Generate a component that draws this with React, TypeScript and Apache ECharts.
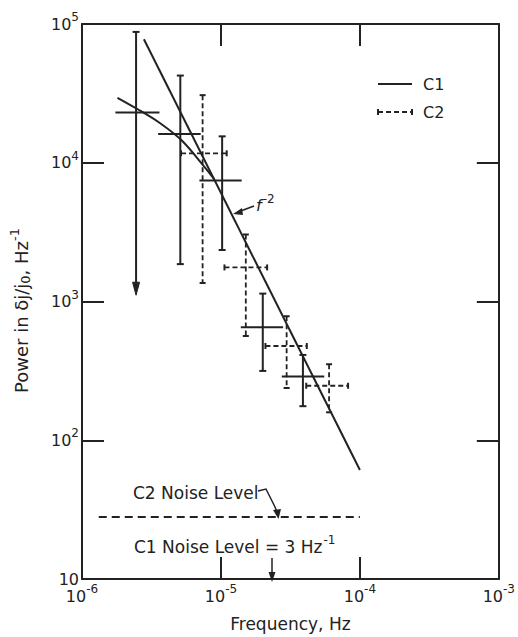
import React, { useEffect, useRef } from 'react';
import * as echarts from 'echarts';

const INK = '#222222';
const FONT = '"DejaVu Sans", "Liberation Sans", sans-serif';

// Axis ticks and their labels (exponents shown as superscripts)
const xTickValues = [1e-6, 1e-5, 1e-4, 1e-3];
const xTickExponents = ['-6', '-5', '-4', '-3'];
const yTickValues = [10, 100, 1000, 1e4, 1e5];
const yTickExponents = ['', '2', '3', '4', '5'];

// C1 (solid error bars)
const c1Freq = [2.45e-6, 5.1e-6, 1.02e-5, 2.0e-5, 3.89e-5];
const c1Power = [2.3e4, 1.61e4, 7.45e3, 653, 288];
const c1FreqLow = [1.74e-6, 3.53e-6, 7.0e-6, 1.39e-5, 2.74e-5];
const c1FreqHigh = [3.61e-6, 7.15e-6, 1.41e-5, 2.8e-5, 5.54e-5];
const c1PowerLow = [1.11e3, 1.86e3, 2.35e3, 316, 176];
const c1PowerHigh = [8.77e4, 4.25e4, 1.55e4, 1.14e3, 412];
const c1UpperLimit = [1, 0, 0, 0, 0];

// C2 (dashed error bars)
const c2Freq = [7.38e-6, 1.51e-5, 2.97e-5, 6.0e-5];
const c2Power = [1.17e4, 1.76e3, 478, 247];
const c2FreqLow = [5.16e-6, 1.06e-5, 2.09e-5, 4.11e-5];
const c2FreqHigh = [1.1e-5, 2.15e-5, 4.15e-5, 8.22e-5];
const c2PowerLow = [1.36e3, 564, 238, 159];
const c2PowerHigh = [3.07e4, 3.04e3, 783, 353];

// f^-2 line
const slopeFreq = [2.79e-6, 1e-4];
const slopePower = [7.76e4, 61];

// rolled-off fit curve
const fitFreq = [1.8e-6, 2.52e-6, 3.59e-6, 5.25e-6, 7.66e-6, 8.97e-6];
const fitPower = [2.94e4, 2.43e4, 1.95e4, 1.44e4, 9.27e3, 7.58e3];

// C2 noise level
const noiseFreq = [1.32e-6, 1e-4];
const noisePower = [28, 28];

function makeErrRender(dashed: boolean) {
  return (params: any, api: any) => {
    const x = api.value(0);
    const y = api.value(1);
    const xlo = api.value(2);
    const xhi = api.value(3);
    const ylo = api.value(4);
    const yhi = api.value(5);
    const limit = api.value(6);
    const c = api.coord([x, y]);
    const pL = api.coord([xlo, y]);
    const pR = api.coord([xhi, y]);
    const pB = api.coord([x, ylo]);
    const pT = api.coord([x, yhi]);
    const style: any = { stroke: INK, lineWidth: dashed ? 1.8 : 2, fill: null };
    if (dashed) style.lineDash = [5, 3];
    const solid = { stroke: INK, lineWidth: 2, fill: null };
    const capW = dashed ? 3 : 3.5;
    const children: any[] = [];
    children.push({ type: 'line', shape: { x1: pL[0], y1: c[1], x2: pR[0], y2: c[1] }, style });
    children.push({ type: 'line', shape: { x1: c[0], y1: pT[1], x2: c[0], y2: limit ? pB[1] - 6 : pB[1] }, style });
    children.push({ type: 'line', shape: { x1: c[0] - capW, y1: pT[1], x2: c[0] + capW, y2: pT[1] }, style: solid });
    if (limit) {
      children.push({
        type: 'polygon',
        shape: { points: [[c[0] - 3.5, pB[1] - 13], [c[0] + 3.5, pB[1] - 13], [c[0], pB[1]]] },
        style: { fill: INK, stroke: INK, lineWidth: 1 },
      });
    } else {
      children.push({ type: 'line', shape: { x1: c[0] - capW, y1: pB[1], x2: c[0] + capW, y2: pB[1] }, style: solid });
    }
    if (dashed) {
      children.push({ type: 'line', shape: { x1: pL[0], y1: c[1] - 3, x2: pL[0], y2: c[1] + 3 }, style: solid });
      children.push({ type: 'line', shape: { x1: pR[0], y1: c[1] - 3, x2: pR[0], y2: c[1] + 3 }, style: solid });
    }
    return { type: 'group', children };
  };
}

function xLabel(v: number) {
  const i = xTickValues.findIndex((t) => Math.abs(Math.log10(t) - Math.log10(v)) < 1e-6);
  if (i < 0) return '';
  return '{b|10}{s|' + xTickExponents[i] + '}';
}
function yLabel(v: number) {
  const i = yTickValues.findIndex((t) => Math.abs(Math.log10(t) - Math.log10(v)) < 1e-6);
  if (i < 0) return '';
  return yTickExponents[i] ? '{b|10}{s|' + yTickExponents[i] + '}' : '{b|10}';
}

export default function App() {
  const ref = useRef<HTMLDivElement>(null);
  useEffect(() => {
    if (!ref.current) return;
    const chart = echarts.init(ref.current, null, { renderer: 'svg' });
    const c1Data = c1Freq.map((f, i) => [f, c1Power[i], c1FreqLow[i], c1FreqHigh[i], c1PowerLow[i], c1PowerHigh[i], c1UpperLimit[i]]);
    const c2Data = c2Freq.map((f, i) => [f, c2Power[i], c2FreqLow[i], c2FreqHigh[i], c2PowerLow[i], c2PowerHigh[i], 0]);
    const tickStyle = { show: true, inside: true, length: 22, lineStyle: { color: INK, width: 2 } };
    const lineAx = { show: true, onZero: false, lineStyle: { color: INK, width: 2 } };
    const labelRich = {
      b: { fontSize: 16, fontFamily: FONT, color: INK },
      s: { fontSize: 12, fontFamily: FONT, color: INK, padding: [0, 0, 14, 0] },
    };
    const option: any = {
      animation: false,
      backgroundColor: '#ffffff',
      grid: { left: 78, right: 15, top: 24, bottom: 54, containLabel: false },
      xAxis: [
        {
          type: 'log', logBase: 10, min: 1e-6, max: 1e-3, position: 'bottom',
          axisLine: lineAx, axisTick: tickStyle, splitLine: { show: false },
          axisLabel: { formatter: xLabel, margin: 4, rich: labelRich },
          name: 'Frequency, Hz', nameLocation: 'middle', nameGap: 36,
          nameTextStyle: { fontSize: 17, fontFamily: FONT, color: INK, verticalAlign: 'top' },
        },
        {
          type: 'log', logBase: 10, min: 1e-6, max: 1e-3, position: 'top',
          axisLine: lineAx, axisTick: tickStyle, splitLine: { show: false }, axisLabel: { show: false },
        },
      ],
      yAxis: [
        {
          type: 'log', logBase: 10, min: 10, max: 1e5, position: 'left',
          axisLine: lineAx, axisTick: tickStyle, splitLine: { show: false },
          axisLabel: { formatter: yLabel, margin: 3, rich: labelRich },
          name: 'Power in δj/j{sub|0}, Hz{sup|-1}', nameLocation: 'middle', nameGap: 47, nameRotate: 90,
          nameTextStyle: {
            fontSize: 18, fontFamily: FONT, color: INK, padding: [0, 18, 0, 0],
            rich: {
              sub: { fontSize: 13, fontFamily: FONT, color: INK, padding: [8, 0, 0, 0] },
              sup: { fontSize: 13, fontFamily: FONT, color: INK, padding: [0, 0, 14, 0] },
            },
          },
        },
        {
          type: 'log', logBase: 10, min: 10, max: 1e5, position: 'right',
          axisLine: lineAx, axisTick: tickStyle, splitLine: { show: false }, axisLabel: { show: false },
        },
      ],
      series: [
        {
          name: 'f-2', type: 'line', showSymbol: false, symbol: 'none', silent: true,
          data: slopeFreq.map((f, i) => [f, slopePower[i]]),
          lineStyle: { color: INK, width: 2 },
        },
        {
          name: 'fit', type: 'line', showSymbol: false, symbol: 'none', silent: true, smooth: 0.3,
          data: fitFreq.map((f, i) => [f, fitPower[i]]),
          lineStyle: { color: INK, width: 2 },
        },
        {
          name: 'C2 noise', type: 'line', showSymbol: false, symbol: 'none', silent: true,
          data: noiseFreq.map((f, i) => [f, noisePower[i]]),
          lineStyle: { color: INK, width: 2, type: [8, 5] },
        },
        {
          name: 'C1', type: 'custom', renderItem: makeErrRender(false), data: c1Data,
          encode: { x: 0, y: 1 }, clip: false, silent: true,
        },
        {
          name: 'C2', type: 'custom', renderItem: makeErrRender(true), data: c2Data,
          encode: { x: 0, y: 1 }, clip: false, silent: true,
        },
      ],
      graphic: [
        // legend
        { type: 'line', shape: { x1: 378, y1: 84, x2: 412, y2: 84 }, style: { stroke: INK, lineWidth: 2 } },
        { type: 'text', x: 423, y: 84, style: { text: 'C1', fontSize: 16, fontFamily: FONT, fill: INK, verticalAlign: 'middle' } },
        { type: 'line', shape: { x1: 378, y1: 112, x2: 412, y2: 112 }, style: { stroke: INK, lineWidth: 1.8, lineDash: [5, 3] } },
        { type: 'line', shape: { x1: 378, y1: 109, x2: 378, y2: 115 }, style: { stroke: INK, lineWidth: 2 } },
        { type: 'line', shape: { x1: 412, y1: 109, x2: 412, y2: 115 }, style: { stroke: INK, lineWidth: 2 } },
        { type: 'text', x: 423, y: 112, style: { text: 'C2', fontSize: 16, fontFamily: FONT, fill: INK, verticalAlign: 'middle' } },
        // f^-2 annotation
        { type: 'polyline', shape: { points: [[238, 212], [246, 209], [254, 206]] }, style: { stroke: INK, lineWidth: 1.5, fill: null } },
        { type: 'polygon', shape: { points: [[233, 214], [242, 208], [243, 215]] }, style: { fill: INK } },
        {
          type: 'text', x: 256, y: 205,
          style: {
            text: '{f|f}{s|-2}', verticalAlign: 'middle',
            rich: {
              f: { fontSize: 16, fontFamily: FONT, fill: INK, fontStyle: 'italic' },
              s: { fontSize: 12, fontFamily: FONT, fill: INK, padding: [0, 0, 12, 1] },
            },
          },
        },
        // C2 noise level label
        { type: 'text', x: 133, y: 493, style: { text: 'C2 Noise Level', fontSize: 17, fontFamily: FONT, fill: INK, verticalAlign: 'middle' } },
        { type: 'polyline', shape: { points: [[258, 491], [266, 489], [275, 507], [277, 512]] }, style: { stroke: INK, lineWidth: 1.5, fill: null } },
        { type: 'polygon', shape: { points: [[273, 510], [281, 509], [278.5, 519]] }, style: { fill: INK } },
        // C1 noise level label
        {
          type: 'text', x: 134, y: 547,
          style: {
            text: 'C1 Noise Level = 3 Hz{s|-1}', fontSize: 17, fontFamily: FONT, fill: INK, verticalAlign: 'middle',
            rich: { s: { fontSize: 12, fontFamily: FONT, fill: INK, padding: [0, 0, 14, 1] } },
          },
        },
        { type: 'line', shape: { x1: 272, y1: 558, x2: 272, y2: 574 }, style: { stroke: INK, lineWidth: 1.5 } },
        { type: 'polygon', shape: { points: [[268.5, 572], [275.5, 572], [272, 582]] }, style: { fill: INK } },
      ],
    };
    chart.setOption(option);
    return () => chart.dispose();
  }, []);
  return <div ref={ref} style={{ position: 'absolute', left: 0, top: 0, width: 518, height: 637 }} />;
}
